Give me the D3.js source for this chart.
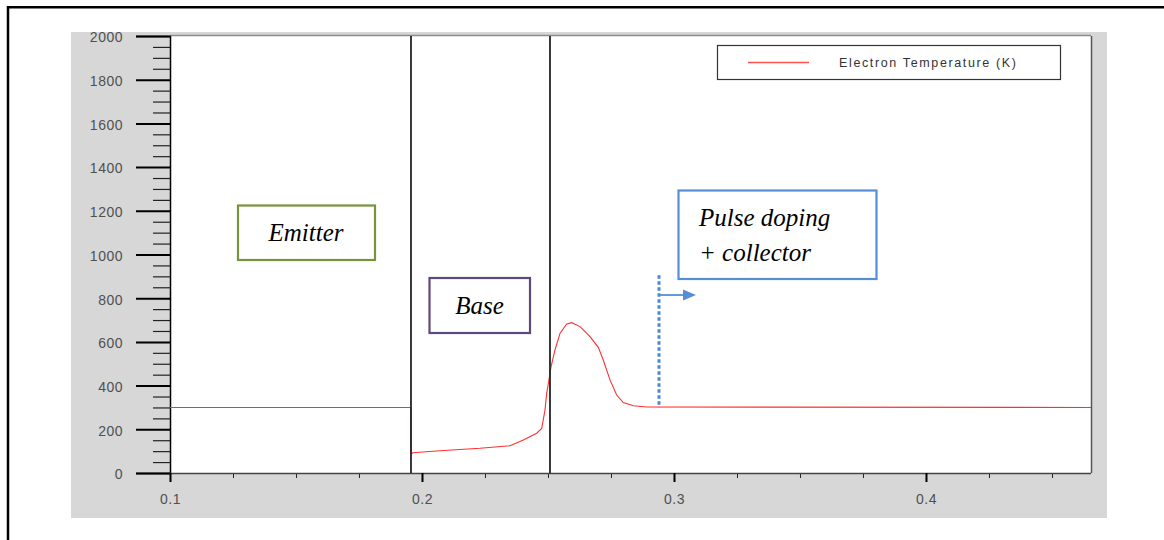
<!DOCTYPE html>
<html>
<head>
<meta charset="utf-8">
<script src="https://cdn.jsdelivr.net/npm/d3@7"></script>
<style>
  html, body { margin: 0; padding: 0; background: #fff; }
  svg { display: block; }
</style>
</head>
<body>
<svg id="chart" width="1164" height="540"></svg>
<script>
// Electron temperature along the device depth (microns)
const depth = [0.1, 0.19563, 0.19563, 0.19643, 0.20714, 0.22302, 0.23492, 0.24021, 0.24552,
  0.24750, 0.24881, 0.24948, 0.25040, 0.25119, 0.25278, 0.25476, 0.25742, 0.25940, 0.26270,
  0.26667, 0.26996, 0.27194, 0.27460, 0.27726, 0.27988, 0.28385, 0.28917, 0.46548];
const temperature = [300, 300, 87, 93, 102, 113, 125, 151, 182,
  204, 288, 365, 426, 486, 563, 639, 682, 688, 670,
  624, 575, 517, 426, 357, 322, 308, 302, 300];

// Region boundaries (emitter/base, base/collector) and pulse-doping marker
const boundaries = [0.19563, 0.25079];
const pulseMarker = 0.29405;
const pulseMarkerRange = [300, 900];

const xMajorTicks = [0.1, 0.2, 0.3, 0.4];
const xMinorTicks = [0.125, 0.15, 0.175, 0.225, 0.25, 0.275, 0.325, 0.35, 0.375, 0.425, 0.45];
const yMajorTicks = [0, 200, 400, 600, 800, 1000, 1200, 1400, 1600, 1800, 2000];
const yMinorTicks = d3.range(0, 2001, 50).filter(v => v % 200 !== 0);

const legendLabel = "Electron Temperature (K)";
const regionLabels = ["Emitter", "Base"];
const collectorLabel = ["Pulse doping", "+ collector"];

const svg = d3.select("#chart");
const pLeft = 170, pRight = 1091, pTop = 36, pBottom = 473;

const x = d3.scaleLinear().domain([0.1, 0.46548]).range([pLeft, pRight]);
const y = d3.scaleLinear().domain([0, 2000]).range([pBottom, pTop]);

// outer frame
svg.append("path")
  .attr("d", "M8,540 L8,7.3 L1164,7.3")
  .attr("fill", "none").attr("stroke", "#000").attr("stroke-width", 2.5);

// grey panel
svg.append("rect").attr("x", 71).attr("y", 32).attr("width", 1036).attr("height", 486)
  .attr("fill", "#d7d7d7");

// plot area
svg.append("rect").attr("x", pLeft).attr("y", pTop).attr("width", pRight - pLeft).attr("height", pBottom - pTop)
  .attr("fill", "#fff");
svg.append("line").attr("x1", pLeft).attr("x2", pRight).attr("y1", pTop - 0.5).attr("y2", pTop - 0.5)
  .attr("stroke", "#8c8c8c").attr("stroke-width", 1.5);
svg.append("line").attr("x1", pRight + 0.5).attr("x2", pRight + 0.5).attr("y1", pTop).attr("y2", pBottom)
  .attr("stroke", "#555").attr("stroke-width", 1.5);

// y axis: minor then major ticks
const yMinor = svg.append("g").attr("transform", `translate(${pLeft},0)`)
  .call(d3.axisLeft(y).tickValues(yMinorTicks).tickSize(17).tickFormat(""));
yMinor.select(".domain").remove();
yMinor.selectAll(".tick line").attr("stroke", "#222").attr("stroke-width", 1.2);

const yMajor = svg.append("g").attr("transform", `translate(${pLeft},0)`)
  .call(d3.axisLeft(y).tickValues(yMajorTicks).tickSize(34).tickPadding(13).tickFormat(d3.format("d")));
yMajor.select(".domain").attr("stroke", "#000").attr("stroke-width", 1.5);
yMajor.selectAll(".tick line").attr("stroke", "#000").attr("stroke-width", 2);
yMajor.selectAll(".tick text")
  .attr("dy", "0.7em").attr("y", -4)
  .attr("fill", "#505050").style("font-family", "Liberation Sans, Arial, sans-serif")
  .style("font-size", "14px").style("letter-spacing", "0.5px");

// x axis
const xMinor = svg.append("g").attr("transform", `translate(0,${pBottom})`)
  .call(d3.axisBottom(x).tickValues(xMinorTicks).tickSize(5).tickFormat(""));
xMinor.select(".domain").remove();
xMinor.selectAll(".tick line").attr("stroke", "#222").attr("stroke-width", 1);

const xMajor = svg.append("g").attr("transform", `translate(0,${pBottom})`)
  .call(d3.axisBottom(x).tickValues(xMajorTicks).tickSize(9).tickPadding(12).tickFormat(d3.format(".1f")));
xMajor.select(".domain").attr("d", `M${pLeft},0.5H${pRight}`).attr("stroke", "#444").attr("stroke-width", 1.5);
xMajor.selectAll(".tick line").attr("stroke", "#000").attr("stroke-width", 2);
xMajor.selectAll(".tick text")
  .attr("fill", "#505050").style("font-family", "Liberation Sans, Arial, sans-serif")
  .style("font-size", "14px").style("letter-spacing", "0.5px");

// temperature curve
const pts = depth.map((d, i) => [d, temperature[i]]);
svg.append("path").datum(pts)
  .attr("d", d3.line().x(d => x(d[0])).y(d => y(d[1])))
  .attr("fill", "none").attr("stroke", "#ff3030").attr("stroke-width", 1.1);

// region boundaries, drawn over the curve
svg.selectAll(".boundary").data(boundaries).join("line")
  .attr("class", "boundary")
  .attr("x1", d => x(d)).attr("x2", d => x(d)).attr("y1", pTop).attr("y2", pBottom)
  .attr("stroke", "#222").attr("stroke-width", 1.8);

// legend
svg.append("rect").attr("x", 717.5).attr("y", 45.5).attr("width", 343).attr("height", 34)
  .attr("fill", "#fff").attr("stroke", "#333").attr("stroke-width", 1.2);
svg.append("line").attr("x1", 748).attr("x2", 809).attr("y1", 62.5).attr("y2", 62.5)
  .attr("stroke", "#ff5050").attr("stroke-width", 1.3);
svg.append("text").attr("x", 839).attr("y", 67)
  .attr("textLength", 177).attr("lengthAdjust", "spacing")
  .attr("fill", "#333").style("font-family", "Liberation Sans, Arial, sans-serif")
  .style("font-size", "12.5px").text(legendLabel);

// annotation boxes
const serif = "Liberation Serif, Times New Roman, serif";
function box(x0, y0, w, h, color) {
  svg.append("rect").attr("x", x0).attr("y", y0).attr("width", w).attr("height", h)
    .attr("fill", "#fff").attr("stroke", color).attr("stroke-width", 2.2);
}
box(238, 205.5, 137, 54.5, "#77933c");
svg.append("text").attr("x", 306).attr("y", 241).attr("text-anchor", "middle")
  .style("font-family", serif).style("font-style", "italic").style("font-size", "25px")
  .attr("fill", "#000").text(regionLabels[0]);

box(429.5, 278, 100.5, 55, "#5f497a");
svg.append("text").attr("x", 479.5).attr("y", 314).attr("text-anchor", "middle")
  .style("font-family", serif).style("font-style", "italic").style("font-size", "25px")
  .attr("fill", "#000").text(regionLabels[1]);

box(678.5, 190.5, 198, 88.5, "#558ed5");
svg.append("text").attr("x", 699).attr("y", 226)
  .style("font-family", serif).style("font-style", "italic").style("font-size", "25px")
  .attr("fill", "#000").text(collectorLabel[0]);
svg.append("text").attr("x", 699).attr("y", 261)
  .style("font-family", serif).style("font-style", "italic").style("font-size", "25px")
  .attr("fill", "#000").text(collectorLabel[1]);

// pulse-doping marker and arrow
const mx = x(pulseMarker);
svg.append("line").attr("x1", mx).attr("x2", mx)
  .attr("y1", y(pulseMarkerRange[1]) - 1).attr("y2", y(pulseMarkerRange[0]))
  .attr("stroke", "#4a86d8").attr("stroke-width", 3).attr("stroke-dasharray", "3.5,2.5");
svg.append("line").attr("x1", mx).attr("x2", mx + 26).attr("y1", 295).attr("y2", 295)
  .attr("stroke", "#558ed5").attr("stroke-width", 1.8);
svg.append("path")
  .attr("d", `M${mx + 37},295 L${mx + 24},289.5 L${mx + 24},300.5 Z`)
  .attr("fill", "#558ed5");
</script>
</body>
</html>
